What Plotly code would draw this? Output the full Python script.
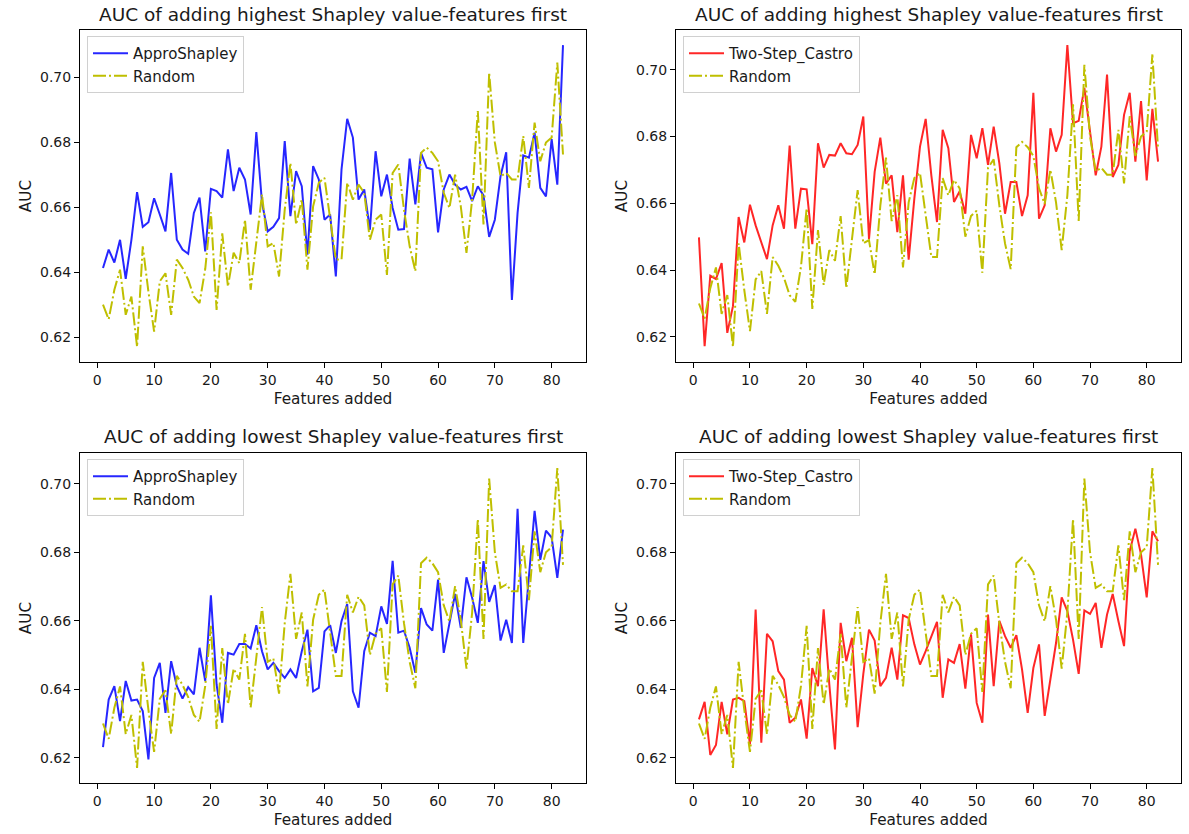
import plotly.graph_objects as go

features = list(range(1, 83))

random_auc = [
    0.630, 0.6255, 0.6346, 0.6408, 0.6269, 0.6325, 0.617, 0.648, 0.634, 0.6217,
    0.6372, 0.6397, 0.6269, 0.6439, 0.6413, 0.6377, 0.6325, 0.6305, 0.641, 0.6585,
    0.6284, 0.652, 0.6356, 0.646, 0.6428, 0.6562, 0.6346, 0.650, 0.664, 0.648,
    0.649, 0.6387, 0.6593, 0.6737, 0.6547, 0.6624, 0.6408, 0.6603, 0.6676, 0.6691,
    0.6562, 0.6439, 0.6439, 0.6676, 0.6624, 0.667, 0.6645, 0.650, 0.6562, 0.6578,
    0.6392, 0.6706, 0.6732, 0.6593, 0.648, 0.6403, 0.6768, 0.6784, 0.6768, 0.6742,
    0.6645, 0.6598, 0.6701, 0.6603, 0.646, 0.6624, 0.6897, 0.6547, 0.7015, 0.680,
    0.6696, 0.6706, 0.6686, 0.6686, 0.682, 0.666, 0.6861, 0.6742, 0.680, 0.6815,
    0.7046, 0.6763,
]

appro_high = [
    0.6413, 0.647, 0.643, 0.650, 0.638, 0.650, 0.6647, 0.654, 0.6554, 0.6628,
    0.6578, 0.6526, 0.6706, 0.650, 0.647, 0.6457, 0.6583, 0.663, 0.6464, 0.6657,
    0.665, 0.663, 0.6779, 0.665, 0.6722, 0.6686, 0.6578, 0.6832, 0.6614, 0.6526,
    0.654, 0.6567, 0.6804, 0.6573, 0.6712, 0.6665, 0.6454, 0.6727, 0.6686, 0.6562,
    0.6578, 0.6387, 0.6717, 0.6873, 0.6815, 0.6624, 0.6655, 0.6531, 0.6773, 0.6634,
    0.6701, 0.6598, 0.6531, 0.6533, 0.675, 0.6609, 0.6768, 0.6722, 0.6717, 0.6523,
    0.6655, 0.6701, 0.667, 0.6655, 0.6663, 0.6619, 0.6665, 0.6637, 0.6509, 0.6562,
    0.6696, 0.677, 0.6315, 0.6583, 0.676, 0.6753, 0.683, 0.666, 0.6634, 0.681,
    0.667, 0.710,
]

castro_high = [
    0.6498, 0.6172, 0.6383, 0.6373, 0.6421, 0.6212, 0.6292, 0.6559, 0.6483, 0.6596,
    0.6534, 0.6483, 0.6433, 0.6534, 0.6594, 0.6524, 0.6773, 0.6524, 0.6644, 0.6642,
    0.6478, 0.678, 0.6707, 0.6745, 0.6743, 0.678, 0.675, 0.6747, 0.6775, 0.686,
    0.6493, 0.6694, 0.6797, 0.6659, 0.6684, 0.6514, 0.6684, 0.6431, 0.6614, 0.677,
    0.6853, 0.6684, 0.6544, 0.682, 0.6765, 0.6604, 0.6636, 0.6569, 0.6805, 0.6735,
    0.6825, 0.6715, 0.683, 0.672, 0.6569, 0.6664, 0.6664, 0.6562, 0.6624, 0.6931,
    0.6554, 0.6594, 0.6825, 0.6755, 0.6805, 0.7074, 0.684, 0.6847, 0.6946, 0.6815,
    0.6684, 0.677, 0.6986, 0.6679, 0.6715, 0.6865, 0.6931, 0.6725, 0.6906, 0.6669,
    0.6883, 0.6725,
]

appro_low = [
    0.6231, 0.637, 0.6409, 0.6307, 0.6424, 0.6367, 0.637, 0.6336, 0.6195, 0.6433,
    0.6477, 0.6331, 0.6482, 0.6409, 0.6373, 0.6406, 0.6385, 0.6521, 0.6424, 0.6674,
    0.6414, 0.6302, 0.6506, 0.6501, 0.6532, 0.6532, 0.6519, 0.6587, 0.6511, 0.6458,
    0.6477, 0.6453, 0.6433, 0.6458, 0.6433, 0.6511, 0.6574, 0.6394, 0.6404, 0.6569,
    0.6587, 0.6506, 0.6599, 0.6649, 0.6394, 0.6346, 0.6511, 0.6565, 0.6555, 0.6642,
    0.6591, 0.6775, 0.6565, 0.6571, 0.6521, 0.6448, 0.6637, 0.6589, 0.6571, 0.672,
    0.6506, 0.6589, 0.6678, 0.6579, 0.6727, 0.6667, 0.6594, 0.6774, 0.6655, 0.6704,
    0.6542, 0.6603, 0.6535, 0.6927, 0.6535, 0.673, 0.6921, 0.6778, 0.6863, 0.6843,
    0.6725, 0.6866,
]

castro_low = [
    0.6312, 0.6363, 0.6208, 0.6237, 0.6363, 0.6268, 0.637, 0.6375, 0.6365, 0.6239,
    0.6633, 0.6244, 0.6562, 0.654, 0.6453, 0.6428, 0.6302, 0.6317, 0.637, 0.6256,
    0.6462, 0.6409, 0.6633, 0.6414, 0.6224, 0.6594, 0.6482, 0.655, 0.6289, 0.6445,
    0.6574, 0.6542, 0.6409, 0.6433, 0.6521, 0.6428, 0.6616, 0.6608, 0.6531, 0.6472,
    0.6511, 0.6555, 0.6597, 0.6375, 0.6487, 0.6477, 0.6532, 0.6402, 0.656, 0.636,
    0.6302, 0.6618, 0.6409, 0.660, 0.6555, 0.6521, 0.6558, 0.6458, 0.6331, 0.6462,
    0.6531, 0.6322, 0.6433, 0.6535, 0.6668, 0.6628, 0.6545, 0.6445, 0.663, 0.662,
    0.6652, 0.6521, 0.6618, 0.6678, 0.6599, 0.6526, 0.6803, 0.6869, 0.6793, 0.6668,
    0.6861, 0.6832,
]

x_ticks = [0, 10, 20, 30, 40, 50, 60, 70, 80]
y_ticks = [0.62, 0.64, 0.66, 0.68, 0.70]

title_high = "AUC of adding highest Shapley value-features first"
title_low = "AUC of adding lowest Shapley value-features first"

W, H = 1189, 834
FONT = "DejaVu Sans"
BLUE = "rgba(0,0,255,0.85)"
RED = "rgba(255,0,0,0.85)"
YEL = "rgb(191,191,0)"
TXT = "#1a1a1a"

# panel pixel boxes in window coordinates: (left, right, top, bottom, title_center_y)
panels = [
    dict(box=(80, 586, 30, 362, 14), main=appro_high, name="ApproShapley", color=BLUE, title=title_high),
    dict(box=(676, 1181, 30, 362, 14), main=castro_high, name="Two-Step_Castro", color=RED, title=title_high),
    dict(box=(80, 586, 453, 783, 437), main=appro_low, name="ApproShapley", color=BLUE, title=title_low),
    dict(box=(676, 1181, 453, 783, 437), main=castro_low, name="Two-Step_Castro", color=RED, title=title_low),
]

def px(v):
    return v / W

def py(v):
    return 1 - v / H

fig = go.Figure()
layout = dict(
    width=W, height=H, margin=dict(l=0, r=0, t=0, b=0),
    paper_bgcolor="white", plot_bgcolor="white",
    font=dict(family=FONT, size=14, color=TXT),
    showlegend=True, annotations=[],
)

xr = [1 - 0.05 * 81, 82 + 0.05 * 81]

for i, p in enumerate(panels):
    n = i + 1
    xa = "x" if n == 1 else f"x{n}"
    ya = "y" if n == 1 else f"y{n}"
    lg = "legend" if n == 1 else f"legend{n}"
    l, r, t, b, ty = p["box"]
    fig.add_trace(go.Scatter(
        x=features, y=p["main"], mode="lines", name=p["name"],
        line=dict(color=p["color"], width=2), xaxis=xa, yaxis=ya, legend=lg,
    ))
    fig.add_trace(go.Scatter(
        x=features, y=random_auc, mode="lines", name="Random",
        line=dict(color=YEL, width=2, dash="13px,3px,2px,3px"), xaxis=xa, yaxis=ya, legend=lg,
    ))
    vals = p["main"] + random_auc
    lo, hi = min(vals), max(vals)
    pad = 0.05 * (hi - lo)
    axis_common = dict(
        showline=True, mirror=True, linecolor="black", linewidth=1,
        ticks="outside", ticklen=5, tickwidth=1, tickcolor="black",
        showgrid=False, zeroline=False,
        tickfont=dict(family=FONT, size=14, color=TXT),
    )
    layout["xaxis" if n == 1 else f"xaxis{n}"] = dict(
        axis_common, domain=[px(l), px(r)], anchor=ya, range=xr,
        tickvals=x_ticks,
        title=dict(text="Features added", standoff=6, font=dict(family=FONT, size=15.3, color=TXT)),
    )
    layout["yaxis" if n == 1 else f"yaxis{n}"] = dict(
        axis_common, domain=[py(b), py(t)], anchor=xa,
        range=[lo - pad, hi + pad], tickvals=y_ticks, tickformat=".2f",
        title=dict(text="AUC", standoff=4, font=dict(family=FONT, size=15.3, color=TXT)),
    )
    layout[lg] = dict(
        x=px(l + 7), y=py(t + 6), xanchor="left", yanchor="top",
        bgcolor="rgba(255,255,255,0.8)", bordercolor="#d0d0d0", borderwidth=1,
        font=dict(family=FONT, size=15, color=TXT), tracegroupgap=0,
        itemwidth=35,
    )
    layout["annotations"].append(dict(
        text=p["title"], x=px((l + r) / 2), y=py(ty),
        xref="paper", yref="paper", xanchor="center", yanchor="middle",
        borderpad=0, showarrow=False, font=dict(family=FONT, size=18.5, color=TXT),
    ))

fig.update_layout(**layout)
# remove the browser's default 8px body margin so the figure fills the window exactly
fig.write_html(
    "out.html",
    config={"displayModeBar": False},
    post_script="document.body.style.margin='0';document.body.style.overflow='hidden';",
)
